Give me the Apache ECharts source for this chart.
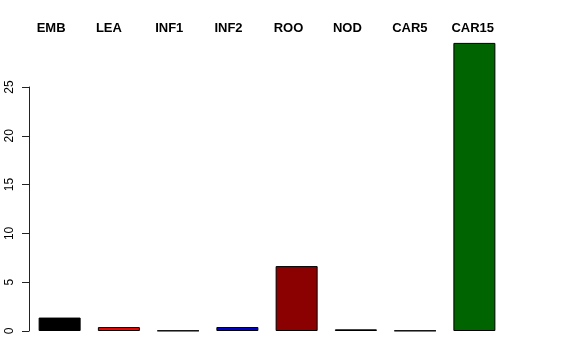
<!DOCTYPE html>
<html>
<head>
<meta charset="utf-8">
<script src="https://cdn.jsdelivr.net/npm/echarts@6/dist/echarts.min.js"></script>
<style>html,body{margin:0;padding:0;background:#fff;}#c{width:576px;height:360px;}</style>
</head>
<body>
<div id="c"></div>
<script>
const categories = ['EMB', 'LEA', 'INF1', 'INF2', 'ROO', 'NOD', 'CAR5', 'CAR15'];
const values = [1.38, 0.40, 0.04, 0.41, 6.67, 0.17, 0.04, 29.6];
const barColors = ['#000000', '#FF0000', '#4A5A4A', '#0000CD', '#8B0000', '#4B0A55', '#55556A', '#006400'];
const yTicks = [0, 5, 10, 15, 20, 25];

const FONT = "'Liberation Sans', Arial, Helvetica, sans-serif";
const chart = echarts.init(document.getElementById('c'), null, {renderer: 'canvas'});
chart.setOption({
  animation: false,
  backgroundColor: '#ffffff',
  grid: [
    {left: 30, width: 474, top: 39, bottom: 29},
    {left: 30, width: 474, top: 87, bottom: 29}
  ],
  xAxis: [
    {
      gridIndex: 0, type: 'category', data: categories, position: 'top',
      axisLine: {show: false}, axisTick: {show: false},
      axisLabel: {
        margin: 4, interval: 0, align: 'center',
        formatter: v => '{a|' + v + '}',
        rich: {a: {width: 46, align: 'left', fontFamily: FONT, fontWeight: 'bold', fontSize: 13, color: '#000'}}
      }
    },
    {gridIndex: 1, type: 'category', data: categories, show: false}
  ],
  yAxis: [
    {gridIndex: 0, type: 'value', min: 0, max: 30, show: false, splitLine: {show: false}},
    {
      gridIndex: 1, type: 'value', min: 0, max: 25, interval: 5,
      offset: 1,
      axisLine: {show: true, lineStyle: {color: '#222', width: 1}},
      axisTick: {show: true, length: 7, lineStyle: {color: '#222'}},
      splitLine: {show: false},
      axisLabel: {rotate: 90, margin: 13, fontFamily: FONT, fontSize: 12, color: '#000',
        customValues: yTicks}
    }
  ],
  series: [{
    type: 'bar',
    xAxisIndex: 0, yAxisIndex: 0,
    barWidth: 42,
    data: values.map((v, i) => ({value: v, itemStyle: {color: barColors[i]}})),
    itemStyle: {borderColor: '#000', borderWidth: 1}
  }]
});
</script>
</body>
</html>
